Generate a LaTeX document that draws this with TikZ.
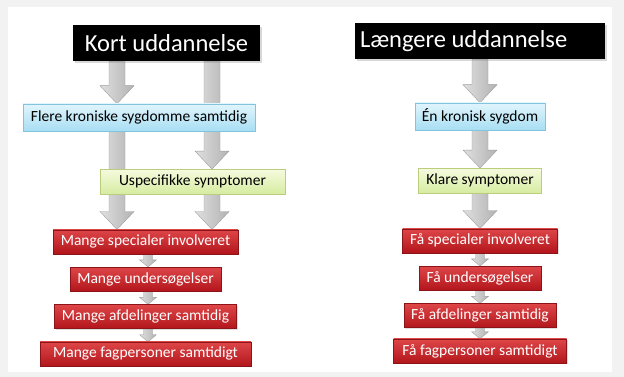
\documentclass[tikz,border=0pt]{standalone}
\usepackage{fontspec}
\setmainfont{Carlito}
\usetikzlibrary{positioning, calc, shadows}
\pgfdeclarelayer{background}
\pgfsetlayers{background,main}
\definecolor{redtop}{RGB}{222,70,72}
\definecolor{redbot}{RGB}{178,22,28}
\definecolor{redline}{RGB}{140,20,25}
\definecolor{bluetop}{RGB}{225,245,252}
\definecolor{bluebot}{RGB}{168,222,243}
\definecolor{blueline}{RGB}{130,195,222}
\definecolor{greentop}{RGB}{245,250,222}
\definecolor{greenbot}{RGB}{214,236,160}
\definecolor{greenline}{RGB}{185,205,125}
\tikzset{title/.style={fill=black, text=white, font=\fontsize{24.5}{26}\selectfont, minimum height=36pt, inner xsep=5pt, drop shadow={opacity=0.3, shadow xshift=1.5pt, shadow yshift=-1.5pt}}}
\tikzset{disease/.style={draw=blueline, top color=bluetop, bottom color=bluebot, font=\fontsize{15.5}{17}\selectfont, minimum height=27pt, inner xsep=4pt}}
\tikzset{symptom/.style={draw=greenline, top color=greentop, bottom color=greenbot, font=\fontsize{15.5}{17}\selectfont, minimum height=25pt, inner xsep=4pt}}
\tikzset{outcome/.style={draw=redline, top color=redtop, bottom color=redbot, text=white, font=\fontsize{15.5}{17}\selectfont, minimum height=24pt, inner xsep=4pt, drop shadow={opacity=0.25, shadow xshift=1pt, shadow yshift=-1pt}}}
\tikzset{blockarrow/.style={draw=gray!75, left color=gray!25, right color=gray!60, line join=miter}}
% block arrow: x taken from the start, y from both ends
\newcommand{\blockarrow}[5]{%
  \path[blockarrow] let \p1=(#1), \p2=(#2) in
    (\x1-#3,\y1) -- (\x1-#3,\y2+#5) -- (\x1-#4,\y2+#5) -- (\x1,\y2)
    -- (\x1+#4,\y2+#5) -- (\x1+#3,\y2+#5) -- (\x1+#3,\y1) -- cycle;}
\newcommand{\bigarrow}[2]{\blockarrow{#1}{#2}{8pt}{17pt}{18pt}}
\newcommand{\smallarrow}[2]{\blockarrow{#1}{#2}{4.5pt}{8.5pt}{7pt}}

\begin{document}
\begin{tikzpicture}[x=1pt, y=-1pt]
\useasboundingbox (0,0) rectangle (624,377);

% left column
\node[title, minimum width=187pt] (kort) at (166.5,43.5) {Kort uddannelse};
\node[disease, minimum width=232pt, below=42pt of kort, xshift=-27.5pt] (flere) {Flere kroniske sygdomme samtidig};
\node[symptom, minimum width=185pt, below=38pt of flere, xshift=53.5pt] (uspec) {Uspecifikke symptomer};
\node[outcome, minimum width=185pt, below=35pt of uspec, xshift=-47pt] (mspec) {Mange specialer involveret};
\node[outcome, minimum width=151pt, below=13pt of mspec] (munders) {Mange undersøgelser};
\node[outcome, minimum width=182pt, below=13pt of munders] (mafd) {Mange afdelinger samtidig};
\node[outcome, minimum width=211pt, below=13pt of mafd] (mfag) {Mange fagpersoner samtidigt};

% right column
\node[title, text width=240pt, align=flush left] (laeng) at (480,41.5) {Længere uddannelse};
\node[disease, minimum width=130pt, below=43pt of laeng] (en) {Én kronisk sygdom};
\node[symptom, minimum width=123pt, below=38pt of en] (klare) {Klare symptomer};
\node[outcome, minimum width=155pt, below=35pt of klare] (fspec) {Få specialer involveret};
\node[outcome, minimum width=122pt, below=13pt of fspec] (funders) {Få undersøgelser};
\node[outcome, minimum width=152pt, below=13pt of funders] (fafd) {Få afdelinger samtidig};
\node[outcome, minimum width=173pt, below=11pt of fafd] (ffag) {Få fagpersoner samtidigt};

\coordinate (colA) at (117,0);
\coordinate (colB) at (212,0);
\coordinate (colC) at (148,0);

\begin{pgfonlayer}{background}
\fill[gray!10] (0,0) rectangle (624,377);
\fill[white] (8,7) rectangle (612,372);
\bigarrow{kort.south -| colA}{flere.north}
\bigarrow{kort.south -| colB}{uspec.north}
\bigarrow{flere.south -| colA}{mspec.north}
\bigarrow{uspec.south -| colB}{mspec.north}
\smallarrow{mspec.south -| colC}{munders.north}
\smallarrow{munders.south -| colC}{mafd.north}
\smallarrow{mafd.south -| colC}{mfag.north}
\bigarrow{laeng.south}{en.north}
\bigarrow{en.south}{klare.north}
\bigarrow{klare.south}{fspec.north}
\smallarrow{fspec.south}{funders.north}
\smallarrow{funders.south}{fafd.north}
\smallarrow{fafd.south}{ffag.north}
\end{pgfonlayer}
\end{tikzpicture}
\end{document}
